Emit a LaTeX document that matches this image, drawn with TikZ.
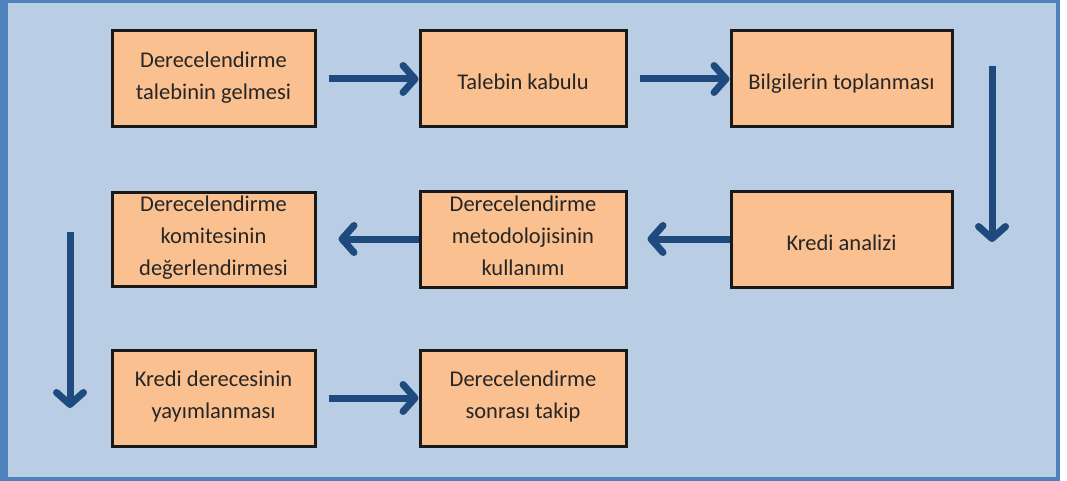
\documentclass[tikz,border=0pt]{standalone}
\usepackage{fontspec}
\setmainfont{Carlito}
\usetikzlibrary{arrows.meta}
\definecolor{panelbg}{HTML}{B9CDE5}
\definecolor{panelrim}{HTML}{4F81BD}
\definecolor{stepfill}{HTML}{FAC090}
\definecolor{flowblue}{HTML}{1F4A7E}
\definecolor{steptext}{HTML}{262626}
\tikzset{
stepbox/.style={
	  draw=black!90, line width=3pt, fill=stepfill, text=steptext,
	    align=center, inner sep=0pt, font=\fontsize{22.5}{32}\selectfont,
	    execute at begin node={\rule{0pt}{29pt}},
	    execute at end node={\rule[-7pt]{0pt}{7pt}}},
flow/.style={
	  draw=flowblue, line width=7pt,
	    -{Straight Barb[length=12pt, width=27pt, round]}}
}

\begin{document}
\begin{tikzpicture}[x=1pt, y=-1pt]
	\useasboundingbox (0,0) rectangle (1067,481);
	\fill[panelrim] (0,0) rectangle (1060,481);
	\fill[panelbg] (8,3) rectangle (1056,477);
	\node[stepbox, minimum width=203pt, minimum height=96pt] (gelme) at (213.5,79) {Derecelendirme\\talebinin gelmesi};
	\node[stepbox, minimum width=206pt, minimum height=96pt] (kabul) at (523,79) {Talebin kabulu};
	\node[stepbox, minimum width=221pt, minimum height=96pt] (bilgi) at (841.5,79) {Bilgilerin toplanması};
	\node[stepbox, minimum width=221pt, minimum height=96pt] (analiz) at (841.5,239) {Kredi analizi};
	\node[stepbox, minimum width=206pt, minimum height=96pt] (metod) at (523,239) {Derecelendirme\\metodolojisinin\\kullanımı};
	\node[stepbox, minimum width=203pt, minimum height=94pt] (komite) at (213.5,239) {Derecelendirme\\komitesinin\\değerlendirmesi};
	\node[stepbox, minimum width=203pt, minimum height=96pt] (yayim) at (213.5,398) {Kredi derecesinin\\yayımlanması};
	\node[stepbox, minimum width=206pt, minimum height=96pt] (takip) at (523,398) {Derecelendirme\\sonrası takip};
	\coordinate (sagust) at (992,66);
	\coordinate (sagalt) at (992,242);
	\coordinate (solust) at (70,232);
	\coordinate (solalt) at (70,408);
	\draw[flow] ([xshift=12pt]gelme.east) -- (kabul.west);
	\draw[flow] ([xshift=12pt]kabul.east) -- (bilgi.west);
	\draw[flow] (sagust) -- (sagalt);
	\draw[flow] (analiz.west) -- ([xshift=20pt]metod.east);
	\draw[flow] (metod.west) -- ([xshift=22pt]komite.east);
	\draw[flow] (solust) -- (solalt);
	\draw[flow] ([xshift=12pt]yayim.east) -- (takip.west);
\end{tikzpicture}
\end{document}
